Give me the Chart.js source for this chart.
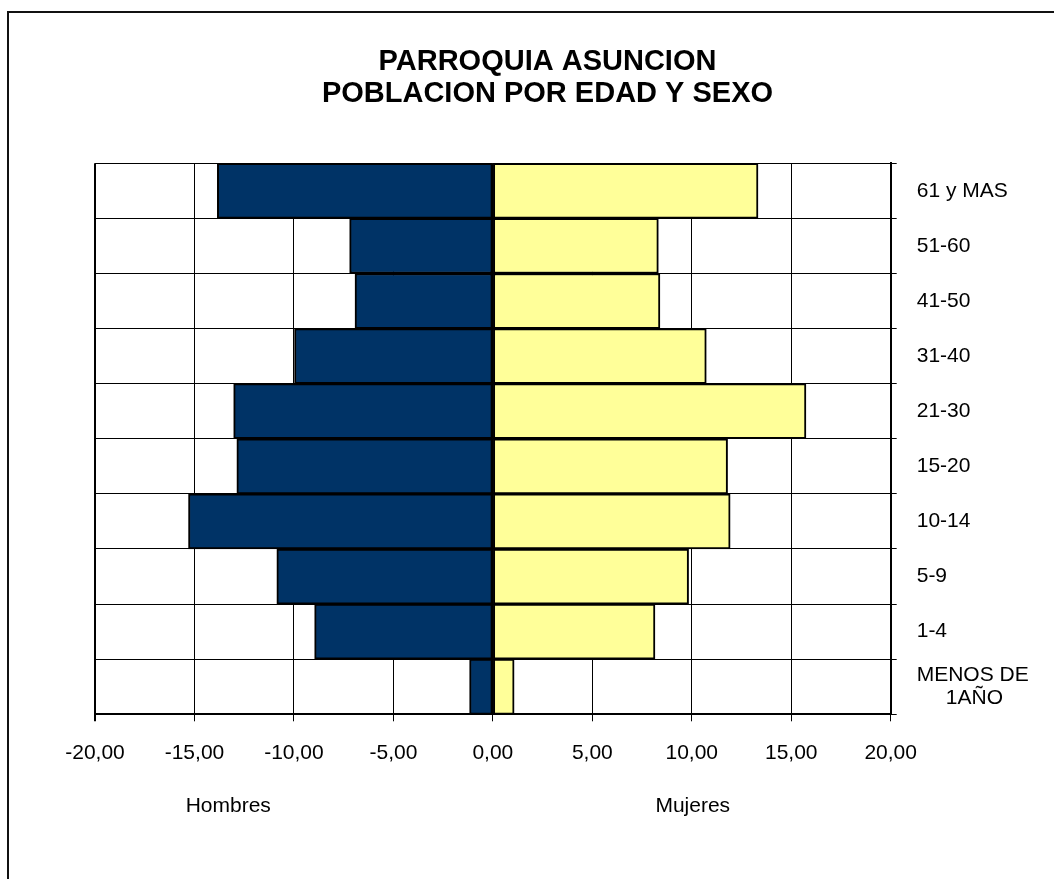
<!DOCTYPE html>
<html><head><meta charset="utf-8">
<script src="https://cdn.jsdelivr.net/npm/chart.js@4.4.1/dist/chart.umd.min.js"></script>
<style>
html,body{margin:0;padding:0;background:#fff;overflow:hidden}
#wrap{position:relative;width:1054px;height:879px}
#frame{position:absolute;left:7px;top:11px;width:1100px;height:900px;border-left:2px solid #111;border-top:2px solid #111}
canvas{position:absolute;left:0;top:0}
</style></head><body>
<div id="wrap"><div id="frame"></div><canvas id="c" width="1054" height="879"></canvas></div>
<script>
// Data (top row first)
const ageGroups = ['61 y MAS', '51-60', '41-50', '31-40', '21-30', '15-20', '10-14', '5-9', '1-4', ['MENOS DE', '     1AÑO']];
const hombres = [-13.85, -7.20, -6.93, -9.97, -13.03, -12.87, -15.30, -10.86, -8.96, -1.17];
const mujeres = [13.33, 8.32, 8.40, 10.73, 15.74, 11.80, 11.93, 9.84, 8.15, 1.07];
const seriesNames = ['Hombres', 'Mujeres'];
const titleLines = ['PARROQUIA ASUNCION', 'POBLACION POR EDAD Y SEXO'];
const xMin = -20, xMax = 20, xStep = 5;

const FONT = "'Liberation Sans', Arial, sans-serif";

const sideLabelsPlugin = {
  id: 'sideLabels',
  afterDraw(chart) {
    const ctx = chart.ctx, xs = chart.scales.x;
    ctx.save();
    ctx.font = '21px ' + FONT;
    ctx.fillStyle = '#000';
    ctx.textAlign = 'center';
    ctx.textBaseline = 'middle';
    const y = chart.chartArea.bottom + 92;
    ctx.fillText(seriesNames[0], xs.getPixelForValue(-13.3), y);
    ctx.fillText(seriesNames[1], xs.getPixelForValue(10.05), y);
    ctx.restore();
  }
};

new Chart(document.getElementById('c'), {
  type: 'bar',
  data: {
    labels: ageGroups,
    datasets: [
      { label: seriesNames[0], data: hombres, backgroundColor: '#003366', borderColor: '#000', borderWidth: 2, borderSkipped: false, barPercentage: 1, categoryPercentage: 1 },
      { label: seriesNames[1], data: mujeres, backgroundColor: '#FFFF99', borderColor: '#000', borderWidth: 2, borderSkipped: false, barPercentage: 1, categoryPercentage: 1 }
    ]
  },
  options: {
    indexAxis: 'y',
    responsive: false,
    animation: false,
    layout: { padding: { left: 41, right: 0, top: 0, bottom: 0 } },
    plugins: {
      legend: { display: false },
      tooltip: { enabled: false },
      title: {
        display: true,
        text: titleLines,
        color: '#000',
        font: { family: FONT, size: 29, weight: 'bold', lineHeight: 1.12 },
        padding: { top: 45.5, bottom: 52.8 }
      }
    },
    scales: {
      x: {
        type: 'linear',
        stacked: true,
        min: xMin, max: xMax,
        afterFit(s) { s.height = 164.7; },
        ticks: {
          stepSize: xStep,
          color: '#000',
          font: { family: FONT, size: 21 },
          padding: 19,
          callback: v => v.toFixed(2).replace('.', ',')
        },
        grid: {
          color: '#000',
          lineWidth: c => (c.tick && c.tick.value === xMin) ? 2 : 1,
          tickLength: 7,
          drawTicks: true
        },
        border: { display: true, color: '#000', width: 2 }
      },
      y: {
        type: 'category',
        stacked: true,
        position: 'right',
        afterFit(s) { s.width = 163.3; },
        ticks: {
          color: '#000',
          crossAlign: 'near',
          padding: 20,
          font: { family: FONT, size: 21, lineHeight: 1.1 }
        },
        grid: { color: '#000', lineWidth: 1, tickLength: 6, offset: true },
        border: { display: true, color: '#000', width: 2 }
      },
      yPad: {
        type: 'category',
        position: 'left',
        display: true,
        afterFit(s) { s.width = 54; },
        ticks: { display: false },
        grid: { display: false, drawTicks: false },
        border: { display: false }
      }
    }
  },
  plugins: [sideLabelsPlugin]
});
</script>
</body></html>
